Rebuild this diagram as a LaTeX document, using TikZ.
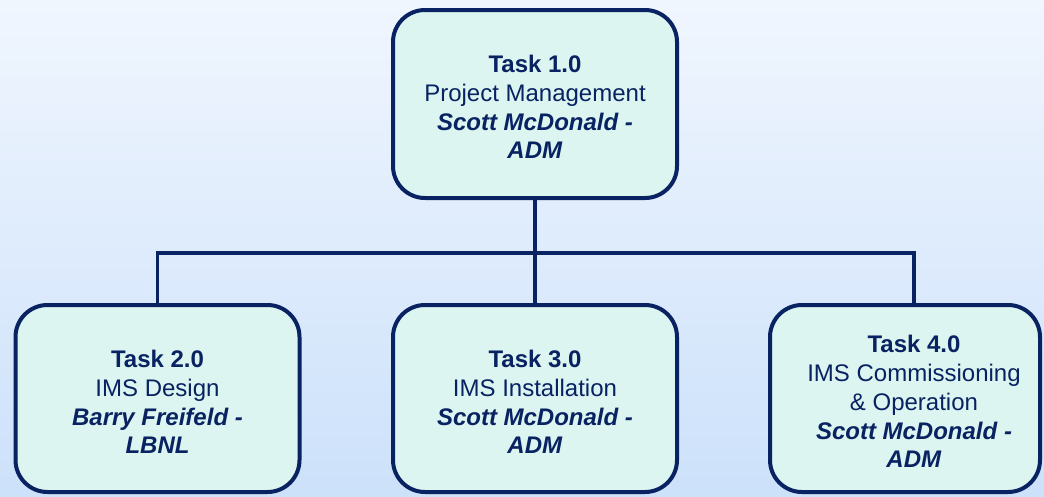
\documentclass[tikz,border=0pt]{standalone}
\usepackage{fontspec}
\setmainfont{Liberation Sans}
\definecolor{navy}{RGB}{8,34,98}
\definecolor{boxfill}{RGB}{221,245,240}
\definecolor{bgtop}{RGB}{240,246,254}
\definecolor{bgbottom}{RGB}{204,225,250}
\usepackage{tikz}
\usetikzlibrary{positioning}

\begin{document}
\begin{tikzpicture}[x=1pt, y=-1pt,
    taskbox/.style={draw=navy, line width=4pt, fill=boxfill, rounded corners=32pt,
      minimum width=284pt, minimum height=187pt, inner sep=0pt},
    tasktext/.style={align=center, text=navy, inner sep=0pt,
      font=\fontsize{24}{28.8}\selectfont},
    link/.style={draw=navy, line width=3.6pt}]
  %% Background
  \shade[top color=bgtop, bottom color=bgbottom] (0,0) rectangle (1044,496);
  \useasboundingbox (0,0) rectangle (1044,496);
  %% Boxes
  \node[taskbox, minimum height=188pt] (t1) at (535,104) {};
  \node[taskbox] (t2) at (157.5,398.5) {};
  \node[taskbox] (t3) at (535,398.5) {};
  \node[taskbox, minimum width=270pt] (t4) at (905,398.5) {};
  %% Texts
  \node[tasktext] (t1text) at ([yshift=-3pt]t1.center)
    {\textbf{Task 1.0}\\Project Management\\\textbf{\textit{Scott McDonald -}}\\\textbf{\textit{ADM}}};
  \node[tasktext] (t2text) at ([yshift=-3.5pt]t2.center)
    {\textbf{Task 2.0}\\IMS Design\\\textbf{\textit{Barry Freifeld -}}\\\textbf{\textit{LBNL}}};
  \node[tasktext] (t3text) at ([yshift=-3.5pt]t3.center)
    {\textbf{Task 3.0}\\IMS Installation\\\textbf{\textit{Scott McDonald -}}\\\textbf{\textit{ADM}}};
  \node[tasktext] (t4text) at ([xshift=9pt, yshift=-3pt]t4.center)
    {\textbf{Task 4.0}\\IMS Commissioning\\\& Operation\\\textbf{\textit{Scott McDonald -}}\\\textbf{\textit{ADM}}};
  %% Connectors
  \coordinate (bus) at (535,253);
  \draw[link] (t1.south) -- (bus);
  \draw[link] (t2.north) |- (bus) -| (t4.north -| t4text);
  \draw[link] (bus) -- (t3.north);
\end{tikzpicture}
\end{document}
